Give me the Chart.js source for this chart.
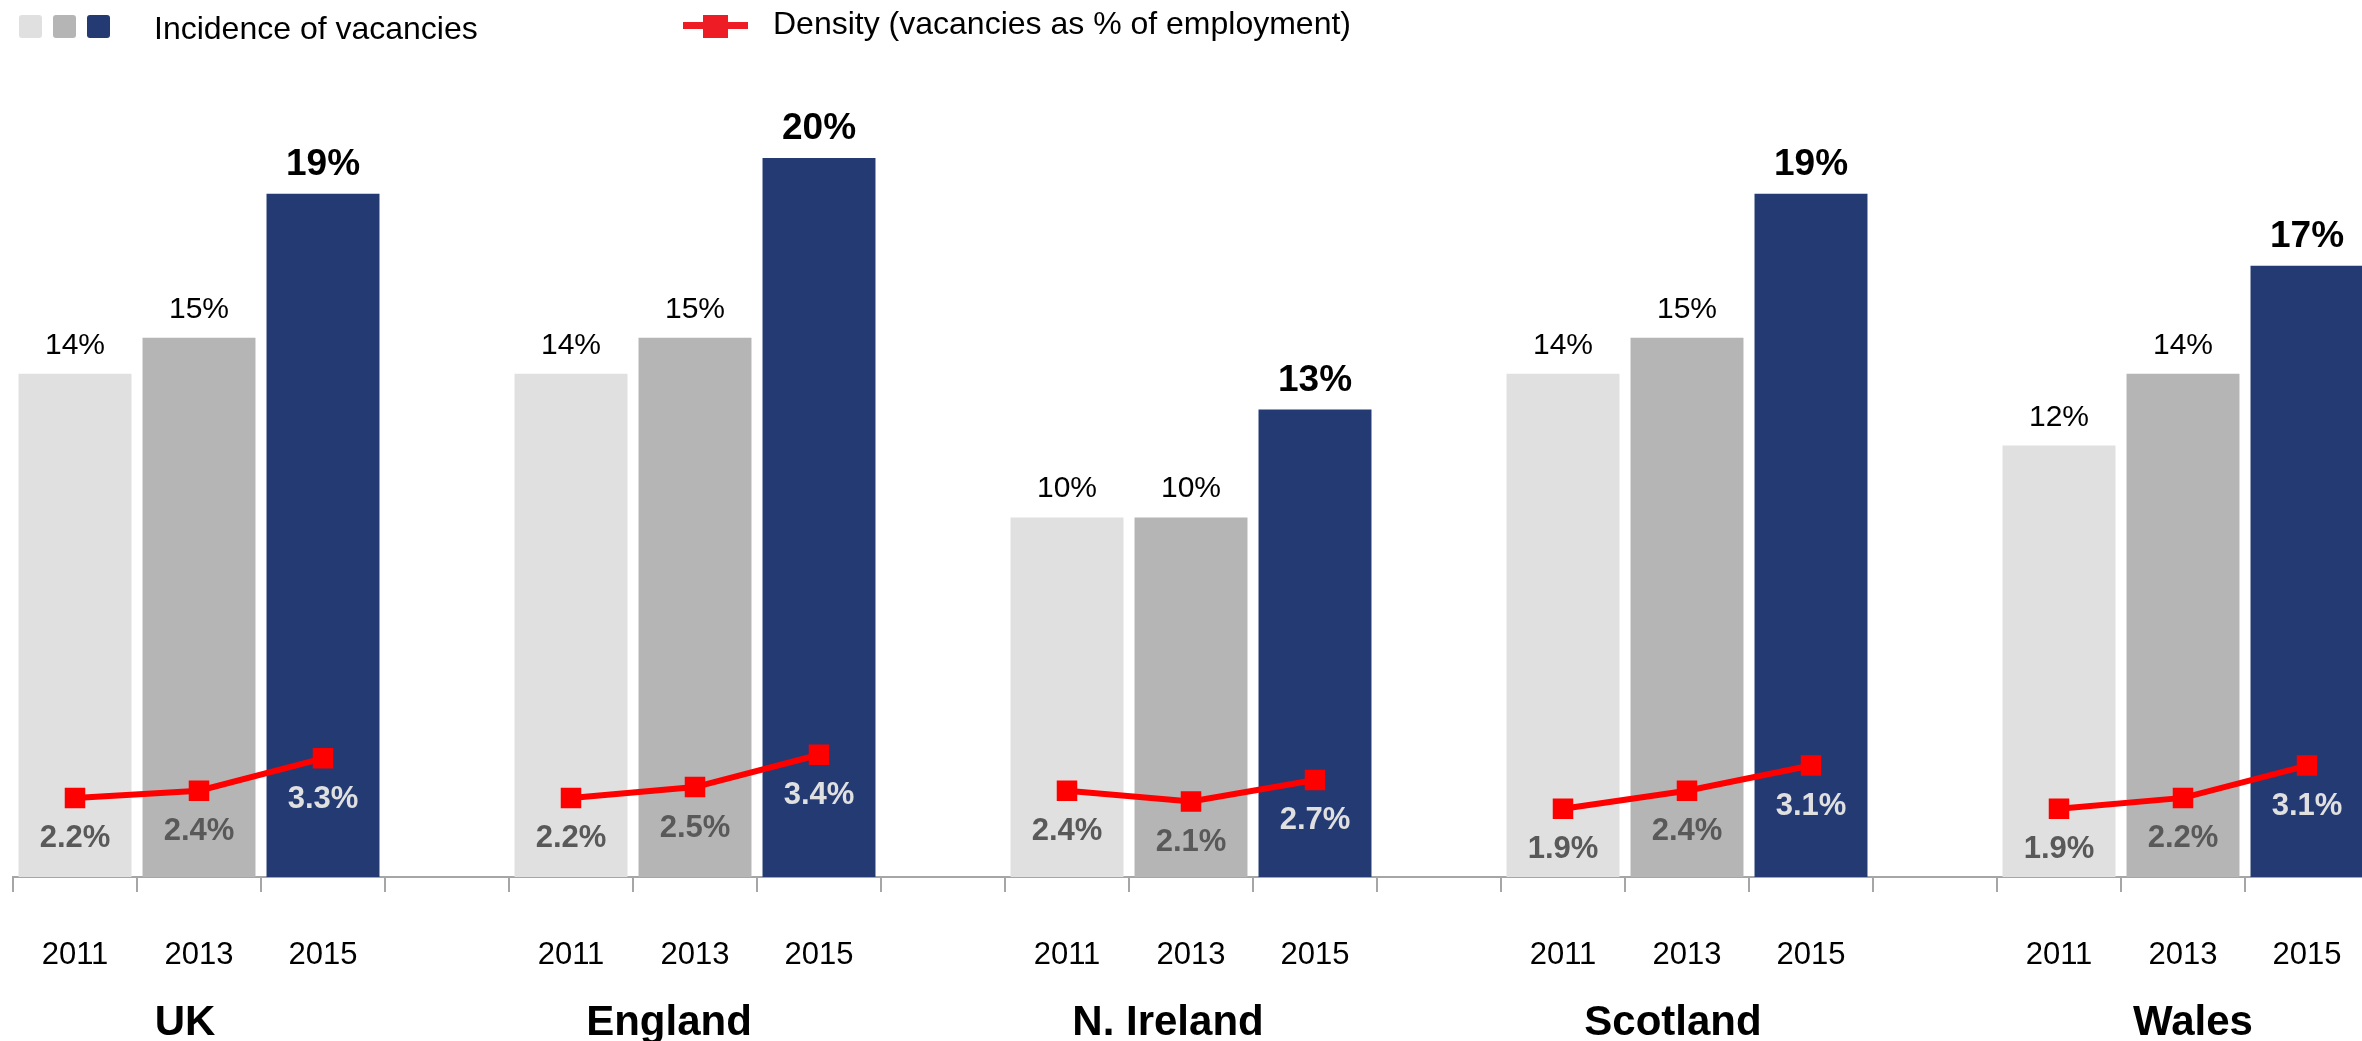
<!DOCTYPE html>
<html lang="en">
<head>
<meta charset="UTF-8">
<title>Incidence and density of vacancies by nation</title>
<script src="https://cdn.jsdelivr.net/npm/chart.js"></script>
<style>
  html, body { margin: 0; padding: 0; background: #fff; overflow: hidden; }
  #chart { display: block; }
</style>
</head>
<body>
<canvas id="chart" width="2493" height="1041"></canvas>
<script>
const countries = ['UK', 'England', 'N. Ireland', 'Scotland', 'Wales'];
const years = ['2011', '2013', '2015'];

// share of establishments with a vacancy (%)
const incidence2011 = [14, 14, 10, 14, 12];
const incidence2013 = [15, 15, 10, 15, 14];
const incidence2015 = [19, 20, 13, 19, 17];

// vacancies as % of employment
const density2011 = [2.2, 2.2, 2.4, 1.9, 1.9];
const density2013 = [2.4, 2.5, 2.1, 2.4, 2.2];
const density2015 = [3.3, 3.4, 2.7, 3.1, 3.1];

const FONT = "'Liberation Sans', Arial, sans-serif";
const barColors = ['#e0e0e0', '#b5b5b5', '#243a73'];
// small sideways shifts for the nation names under each group
const nameShift = [-14, -26, -23, -14, 10];

// three year slots per nation, then one empty slot as a spacer
const incidence = [incidence2011, incidence2013, incidence2015];
const density = [density2011, density2013, density2015];
const slotLabels = [], barValues = [], lineValues = [], slotYear = [];
countries.forEach((c, i) => {
  years.forEach((y, j) => {
    slotLabels.push(y);
    barValues.push(incidence[j][i]);
    lineValues.push(density[j][i]);
    slotYear.push(j);
  });
  slotLabels.push('');
  barValues.push(null);
  lineValues.push(null);
  slotYear.push(-1);
});

const valueLabels = {
  id: 'valueLabels',
  afterDatasetsDraw(chart) {
    const ctx = chart.ctx;
    const bars = chart.getDatasetMeta(1).data;
    const pts = chart.getDatasetMeta(0).data;
    ctx.save();
    ctx.textAlign = 'center';
    ctx.textBaseline = 'alphabetic';
    bars.forEach((bar, i) => {
      const v = barValues[i];
      if (v == null) return;
      const latest = slotYear[i] === 2;
      ctx.font = (latest ? 'bold 37px ' : '30px ') + FONT;
      ctx.fillStyle = '#000';
      ctx.fillText(v + '%', bar.x, bar.y - (latest ? 19 : 20));
    });
    ctx.font = 'bold 31px ' + FONT;
    ctx.textBaseline = 'middle';
    pts.forEach((pt, i) => {
      const v = lineValues[i];
      if (v == null) return;
      ctx.fillStyle = slotYear[i] === 2 ? '#e0e0e0' : '#595959';
      ctx.fillText(v.toFixed(1) + '%', pt.x, pt.y + 41);
    });
    ctx.restore();
  },
  afterDraw(chart) {
    const ctx = chart.ctx;
    const x = chart.scales.x;
    ctx.save();

    // nation names below the year labels
    ctx.font = 'bold 42px ' + FONT;
    ctx.fillStyle = '#000';
    ctx.textAlign = 'center';
    ctx.textBaseline = 'alphabetic';
    countries.forEach((c, i) => {
      ctx.fillText(c, x.getPixelForValue(i * 4 + 1) + nameShift[i], 1035);
    });

    // legend
    ctx.textAlign = 'left';
    ctx.font = '32px ' + FONT;
    barColors.forEach((col, i) => {
      ctx.fillStyle = col;
      ctx.beginPath();
      ctx.roundRect(19 + i * 34, 15, 23, 23, 3);
      ctx.fill();
    });
    ctx.fillStyle = '#000';
    ctx.fillText('Incidence of vacancies', 154, 39);

    ctx.fillStyle = '#ee1c25';
    ctx.fillRect(683, 22, 65, 7);
    ctx.fillRect(703, 15, 25, 23);
    ctx.fillStyle = '#000';
    ctx.fillText('Density (vacancies as % of employment)', 773, 34);
    ctx.restore();
  }
};

new Chart(document.getElementById('chart'), {
  data: {
    labels: slotLabels,
    datasets: [
      {
        type: 'line',
        label: 'Density (vacancies as % of employment)',
        data: lineValues,
        borderColor: '#ff0000',
        borderWidth: 6,
        pointStyle: 'rect',
        pointRadius: 14.5,
        pointHoverRadius: 14.5,
        pointBackgroundColor: '#ff0000',
        pointBorderColor: '#ff0000',
        pointBorderWidth: 0,
        spanGaps: false,
        tension: 0,
        order: 0
      },
      {
        type: 'bar',
        label: 'Incidence of vacancies',
        data: barValues,
        backgroundColor: slotYear.map(j => barColors[j] || 'transparent'),
        barPercentage: 0.911,
        categoryPercentage: 1,
        order: 1
      }
    ]
  },
  options: {
    responsive: false,
    animation: false,
    layout: { autoPadding: false, padding: { top: 86, left: 13, right: 0, bottom: 0 } },
    plugins: {
      legend: { display: false },
      tooltip: { enabled: false }
    },
    scales: {
      x: {
        type: 'category',
        offset: true,
        grid: {
          display: true,
          drawOnChartArea: false,
          drawTicks: true,
          tickLength: 15,
          color: '#a6a6a6',
          lineWidth: 2,
          offset: true
        },
        border: { display: true, color: '#a6a6a6', width: 2 },
        ticks: {
          color: '#000',
          font: { family: FONT, size: 31 },
          padding: 45,
          maxRotation: 0,
          autoSkip: false
        },
        afterFit(scale) {
          scale.height = 164;
          // the year labels fit inside their slots, no side padding needed
          scale.paddingLeft = 0;
          scale.paddingRight = 0;
        }
      },
      y: { display: false, min: 0, max: 22 }
    }
  },
  plugins: [valueLabels]
});
</script>
</body>
</html>
